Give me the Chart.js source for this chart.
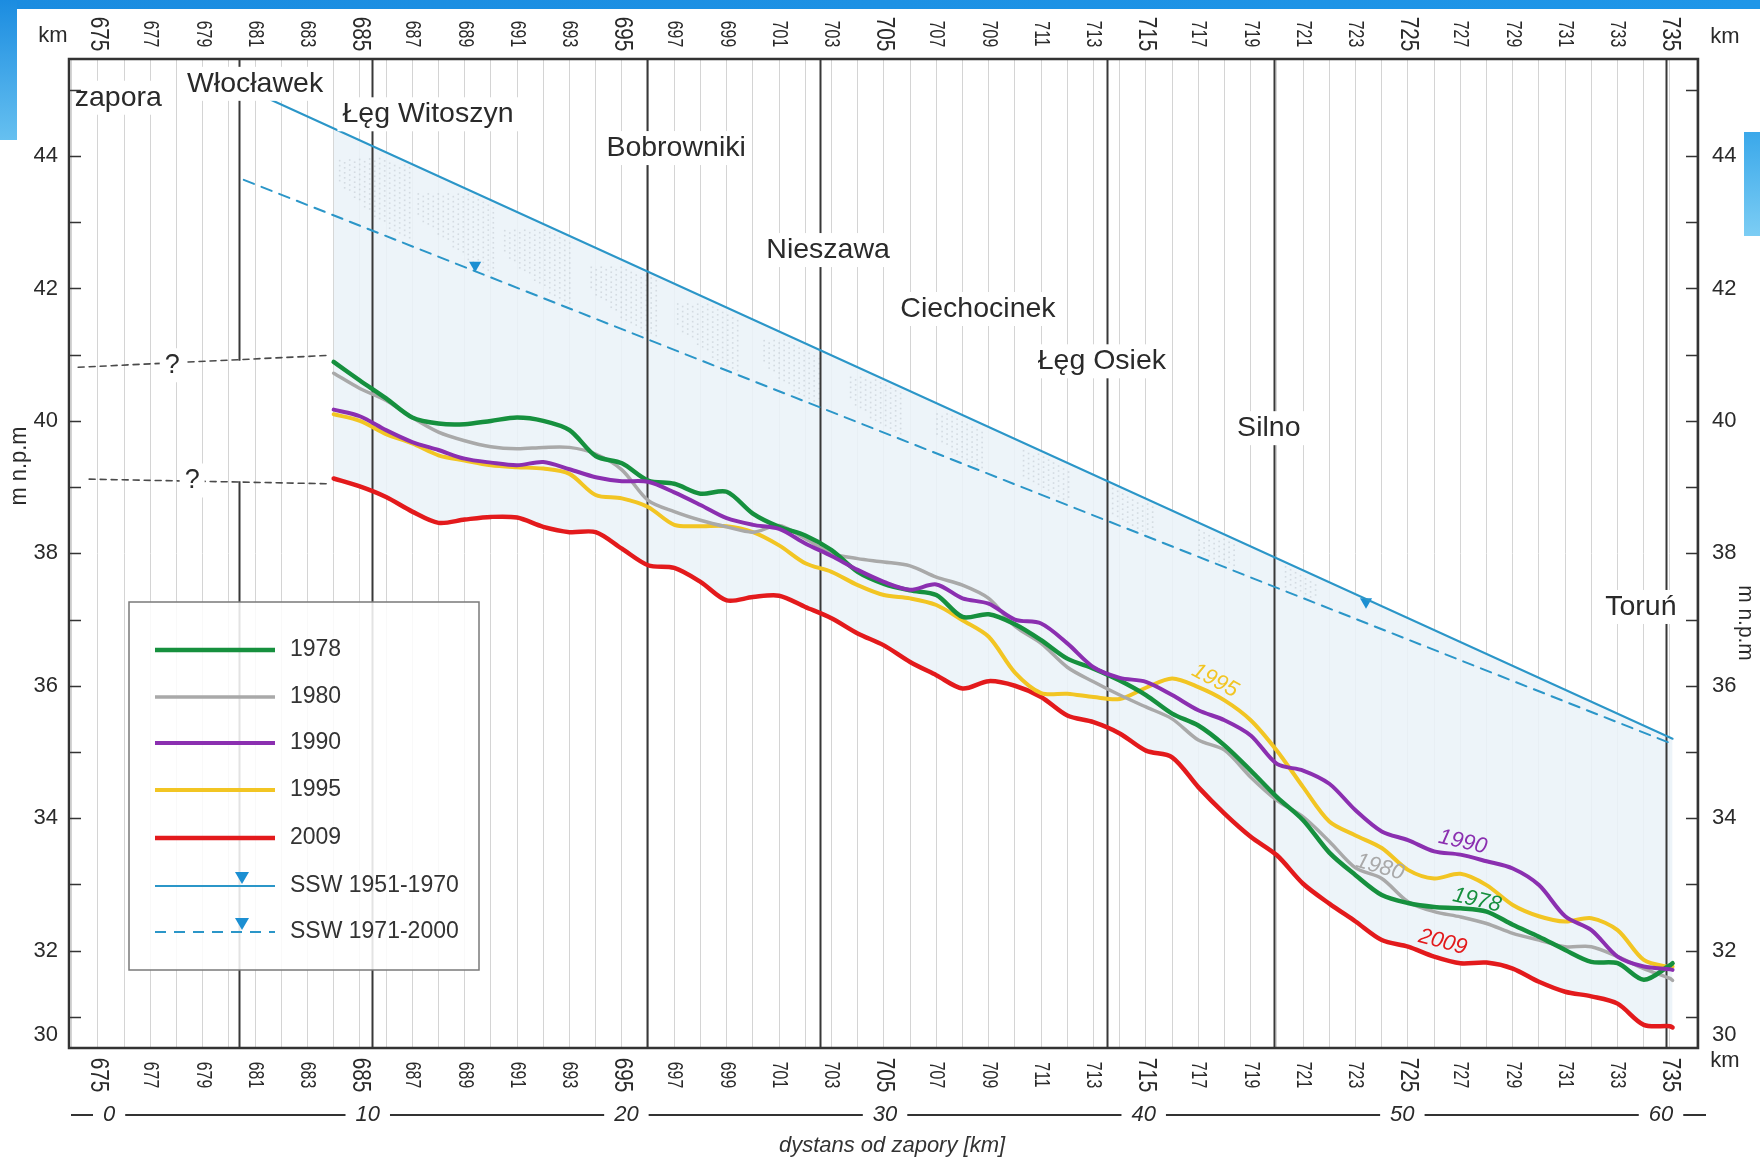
<!DOCTYPE html>
<html lang="pl">
<head>
<meta charset="UTF-8">
<title>Profil zwierciadła wody Wisły – Włocławek–Toruń</title>
<script src="https://cdn.jsdelivr.net/npm/chart.js@4.4.1/dist/chart.umd.min.js"></script>
<style>
    body {
        margin: 0;
        background: #fff;
        font-family: "Liberation Sans", Arial, sans-serif;
    }
    .frame {
        position: relative;
        width: 1760px;
        height: 1161px;
        overflow: hidden;
    }
    .bar-top {
        position: absolute; left: 0; top: 0; width: 1760px; height: 9px;
        background: linear-gradient(to right, #1b8ce0, #1f96e8);
    }
    .bar-left {
        position: absolute; left: 0; top: 0; width: 17px; height: 140px;
        background: linear-gradient(to bottom, #1b8ce0, #66c0f0);
    }
    .bar-right {
        position: absolute; right: 0; top: 132px; width: 16px; height: 104px;
        background: linear-gradient(to bottom, #3aa8ea, #7ccdf4);
    }
</style>
</head>
<body>
<div class="frame">
    <canvas id="profil" width="1760" height="1161"></canvas>
    <div class="bar-top"></div>
    <div class="bar-left"></div>
    <div class="bar-right"></div>
</div>

<script>
// kilometraż rzeki (km) dla odczytanych punktów
const kmSteps = [684, 685, 686, 687, 688, 689, 690, 691, 692, 693, 694, 695, 696, 697, 698, 699,
    700, 701, 702, 703, 704, 705, 706, 707, 708, 709, 710, 711, 712, 713, 714, 715, 716, 717, 718, 719,
    720, 721, 722, 723, 724, 725, 726, 727, 728, 729, 730, 731, 732, 733, 734, 735, 735.1];

// rzędne zwierciadła wody [m n.p.m.]
const y1978 = [40.89, 40.61, 40.34, 40.05, 39.96, 39.95, 40.00, 40.05, 40.00, 39.86, 39.47, 39.36, 39.10, 39.05, 38.90, 38.93,
    38.60, 38.40, 38.27, 38.05, 37.72, 37.54, 37.44, 37.37, 37.04, 37.08, 36.93, 36.69, 36.41, 36.26, 36.08, 35.86, 35.58, 35.40, 35.10, 34.72,
    34.32, 33.97, 33.48, 33.14, 32.84, 32.72, 32.66, 32.64, 32.59, 32.39, 32.21, 32.01, 31.83, 31.81, 31.56, 31.78, 31.81];
const y1980 = [40.72, 40.49, 40.31, 40.05, 39.83, 39.70, 39.61, 39.58, 39.60, 39.60, 39.50, 39.26, 38.80, 38.63, 38.50, 38.40,
    38.32, 38.42, 38.22, 38.00, 37.92, 37.87, 37.81, 37.64, 37.52, 37.32, 36.90, 36.64, 36.28, 36.06, 35.86, 35.68, 35.50, 35.18, 35.03, 34.62,
    34.27, 34.02, 33.65, 33.25, 33.09, 32.74, 32.59, 32.51, 32.41, 32.26, 32.16, 32.06, 32.06, 31.91, 31.73, 31.58, 31.55];
const y1990 = [40.17, 40.07, 39.86, 39.68, 39.56, 39.43, 39.37, 39.33, 39.38, 39.27, 39.15, 39.09, 39.08, 38.92, 38.73, 38.53,
    38.43, 38.37, 38.15, 37.96, 37.75, 37.57, 37.45, 37.53, 37.32, 37.24, 37.00, 36.94, 36.64, 36.28, 36.12, 36.06, 35.86, 35.63, 35.48, 35.25,
    34.82, 34.72, 34.52, 34.12, 33.80, 33.67, 33.50, 33.45, 33.35, 33.24, 32.99, 32.52, 32.31, 31.91, 31.76, 31.72, 31.71];
const y1995 = [40.10, 40.00, 39.80, 39.66, 39.48, 39.40, 39.33, 39.30, 39.28, 39.20, 38.88, 38.83, 38.70, 38.43, 38.41, 38.41,
    38.32, 38.12, 37.85, 37.72, 37.52, 37.37, 37.32, 37.22, 36.99, 36.74, 36.20, 35.89, 35.88, 35.83, 35.80, 35.97, 36.11, 35.98, 35.78, 35.48,
    35.02, 34.47, 33.95, 33.74, 33.55, 33.22, 33.09, 33.16, 32.99, 32.69, 32.52, 32.44, 32.49, 32.31, 31.86, 31.75, 31.76];
const y2009 = [39.13, 39.01, 38.85, 38.63, 38.46, 38.51, 38.55, 38.54, 38.40, 38.32, 38.32, 38.07, 37.82, 37.78, 37.57, 37.29,
    37.34, 37.36, 37.19, 37.02, 36.79, 36.61, 36.36, 36.16, 35.96, 36.07, 36.00, 35.83, 35.55, 35.45, 35.28, 35.02, 34.92, 34.47, 34.07, 33.72,
    33.44, 33.01, 32.71, 32.44, 32.16, 32.06, 31.91, 31.81, 31.82, 31.73, 31.53, 31.38, 31.31, 31.20, 30.88, 30.86, 30.84];

// średnie stany wody (SSW)
const ssw5170Km = [681.6, 735.1];
const ssw5170Level = [44.85, 35.2];
const ssw7100Km = [680.57, 735.1];
const ssw7100Level = [43.64, 35.12];
const sswMarkKm = [723.4, 689.4];
const sswMarkLevel = [37.27, 42.35];

// odcinki kropkowane między liniami SSW (km od–do)
const stippleFrom = [684.2, 687.2, 690.5, 693.8, 697.1, 700.4, 703.7, 707.0, 710.3, 713.7, 717.0, 720.3];
const stippleTo = [686.9, 690.1, 693.1, 696.3, 699.5, 702.5, 705.7, 708.8, 712.2, 715.4, 718.4, 721.6];

// przypuszczalne poziomy powyżej km 684 ("?")
const qUpperKm = [674.25, 683.87];
const qUpperLevel = [40.81, 40.99];
const qLowerKm = [674.67, 683.87];
const qLowerLevel = [39.12, 39.05];

// miejscowości i ich kilometraż
const placeNames = ['zapora', 'Włocławek', 'Łęg Witoszyn', 'Bobrowniki', 'Nieszawa', 'Ciechocinek', 'Łęg Osiek', 'Silno', 'Toruń'];
const placeKm = [null, 680.4, 685.45, 695.95, 702.55, null, 713.5, 719.9, 734.85];

// opisy osi
const kmTickLabels = ['675', '677', '679', '681', '683', '685', '687', '689', '691', '693', '695', '697', '699', '701', '703',
    '705', '707', '709', '711', '713', '715', '717', '719', '721', '723', '725', '727', '729', '731', '733', '735'];
const distTickLabels = ['0', '10', '20', '30', '40', '50', '60'];
const levelTickLabels = ['44', '42', '40', '38', '36', '34', '32', '30'];

const seriesNames = ['1978', '1980', '1990', '1995', '2009', 'SSW 1951-1970', 'SSW 1971-2000'];

// ---- wygląd ----
const FONT = '"Liberation Sans", Arial, sans-serif';
const colors = {
    '1978': '#16903e', '1980': '#a9a9a9', '1990': '#8b2fb0', '1995': '#f2c523', '2009': '#e31a1c',
    ssw: '#2b96c8', sswMark: '#1c8fd2', site: '#383838', ink: '#2a2a2a'
};

// miejsca napisów (km, m n.p.m.)
const placeAnchors = [
    {km: 674.12, lv: 44.88, align: 'left'},
    {km: 681.0, lv: 45.09}, {km: 687.6, lv: 44.63}, {km: 697.07, lv: 44.12}, {km: 702.87, lv: 42.58},
    {km: 708.59, lv: 41.69}, {km: 713.32, lv: 40.90}, {km: 719.69, lv: 39.89}, {km: 733.89, lv: 37.19}
];
const seriesTags = [
    {text: '1995', km: 717.64, lv: 36.08, rot: 28, color: colors['1995']},
    {text: '1990', km: 727.09, lv: 33.64, rot: 13, color: colors['1990']},
    {text: '1980', km: 723.93, lv: 33.26, rot: 16, color: colors['1980']},
    {text: '1978', km: 727.63, lv: 32.76, rot: 13, color: colors['1978']},
    {text: '2009', km: 726.33, lv: 32.13, rot: 15, color: colors['2009']}
];

function pts(xs, ys) {
    return ys.map((v, i) => ({x: xs[i], y: v}));
}

function lineAt(xs, ys, km) {
    // poziom na prostej SSW w danym km
    return ys[0] + (ys[1] - ys[0]) * (km - xs[0]) / (xs[1] - xs[0]);
}

function drawText(c, s, x, y, o) {
    c.save();
    c.font = o.font;
    c.fillStyle = o.color || colors.ink;
    c.textAlign = o.align || 'center';
    c.textBaseline = 'middle';
    c.translate(x, y);
    if (o.rot) c.rotate(o.rot);
    if (o.sx) c.scale(o.sx, 1);
    c.fillText(s, 0, 0);
    c.restore();
}

function boxedText(c, s, x, y, font, align) {
    c.save();
    c.font = font;
    const w = c.measureText(s).width;
    const left = align === 'left' ? x : x - w / 2 - 5;
    c.fillStyle = '#fff';
    c.fillRect(left, y - 17, w + (align === 'left' ? 5 : 10), 34);
    c.restore();
    drawText(c, s, x, y, {font: font, align: align});
}

const decor = {
    id: 'decor',
    beforeDatasetsDraw(chart) {
        const c = chart.ctx, a = chart.chartArea, x = chart.scales.x, y = chart.scales.y;
        c.save();

        // kropkowanie między liniami SSW
        c.fillStyle = 'rgba(150,160,170,0.3)';
        stippleFrom.forEach((k0, i) => {
            const k1 = stippleTo[i];
            const x0 = x.getPixelForValue(k0), x1 = x.getPixelForValue(k1);
            for (let px = x0; px <= x1; px += 5) {
                const km = x.getValueForPixel(px);
                const top = y.getPixelForValue(lineAt(ssw5170Km, ssw5170Level, km));
                const bot = y.getPixelForValue(lineAt(ssw7100Km, ssw7100Level, km));
                const h = bot - top;
                const t = (px - x0) / (x1 - x0);
                const from = top + h * (0.12 + 0.4 * (1 - t)) - 16;
                const to = top + h * (0.5 + 0.4 * t) + 10;
                const odd = Math.round((px - x0) / 5) % 2;
                for (let py = from + odd * 2.5; py <= Math.min(to, bot - 4); py += 5) {
                    if (py < top + 4) continue;
                    c.fillRect(px, py, 1.6, 1.6);
                }
            }
        });

        c.strokeStyle = colors.site;
        c.lineWidth = 2;
        placeKm.forEach((km, i) => {
            if (km === null) return;
            const px = Math.round(x.getPixelForValue(km)) + 0.5;
            c.beginPath();
            if (placeNames[i] === 'Włocławek') {
                // przerwa między liniami "?"
                c.moveTo(px, a.top); c.lineTo(px, y.getPixelForValue(qUpperLevel[0] + 0.1));
                c.moveTo(px, y.getPixelForValue(qLowerLevel[0] - 0.03)); c.lineTo(px, a.bottom);
            } else {
                c.moveTo(px, a.top); c.lineTo(px, a.bottom);
            }
            c.stroke();
        });
        c.restore();
    },
    afterDatasetsDraw(chart) {
        const c = chart.ctx, a = chart.chartArea, x = chart.scales.x, y = chart.scales.y, xd = chart.scales.xd;

        // znaki zapytania
        boxedText(c, '?', x.getPixelForValue(677.84), y.getPixelForValue(40.84), '27px ' + FONT);
        boxedText(c, '?', x.getPixelForValue(678.6), y.getPixelForValue(39.1), '27px ' + FONT);

        // nazwy miejscowości
        placeNames.forEach((n, i) => {
            const p = placeAnchors[i];
            boxedText(c, n, x.getPixelForValue(p.km), y.getPixelForValue(p.lv), '28.5px ' + FONT, p.align);
        });

        // ramka wykresu
        c.save();
        c.strokeStyle = '#333';
        c.lineWidth = 2.5;
        c.strokeRect(a.left, a.top, a.right - a.left, a.bottom - a.top);

        // znaczniki osi rzędnych (co 1 m, do środka)
        c.lineWidth = 1.5;
        for (let v = 31; v <= 45; v++) {
            const py = Math.round(y.getPixelForValue(v)) + 0.5;
            c.beginPath();
            c.moveTo(a.left, py); c.lineTo(a.left + 12, py);
            c.moveTo(a.right, py); c.lineTo(a.right - 12, py);
            c.stroke();
        }
        c.restore();

        levelTickLabels.forEach(t => {
            const py = Math.min(y.getPixelForValue(+t), a.bottom - 13);
            drawText(c, t, a.left - 11, py, {font: '22px ' + FONT, align: 'right'});
            drawText(c, t, a.right + 14, py, {font: '22px ' + FONT, align: 'left'});
        });

        // kilometraż u góry i u dołu (tekst obrócony)
        kmTickLabels.forEach(t => {
            const km = +t, px = x.getPixelForValue(km);
            const big = km % 10 === 5;
            const o = {font: (big ? '26px ' : '22px ') + FONT, rot: Math.PI / 2, sx: big ? 0.8 : 0.72};
            drawText(c, t, px, 34, o);
            drawText(c, t, px, 1075, o);
        });
        drawText(c, 'km', 53, 36, {font: '22px ' + FONT});
        drawText(c, 'km', 1725, 37, {font: '22px ' + FONT});
        drawText(c, 'km', 1725, 1061, {font: '22px ' + FONT});

        // dystans od zapory
        const dy = 1115;
        const itFont = 'italic 22px ' + FONT;
        c.save();
        c.font = itFont;
        let prev = a.left + 2;
        c.strokeStyle = '#333';
        c.lineWidth = 2;
        distTickLabels.forEach(t => {
            const px = xd.getPixelForValue(+t);
            const w = c.measureText(t).width;
            c.beginPath(); c.moveTo(prev, dy); c.lineTo(px - w / 2 - 10, dy); c.stroke();
            prev = px + w / 2 + 10;
        });
        c.beginPath(); c.moveTo(prev, dy); c.lineTo(a.right + 8, dy); c.stroke();
        c.restore();
        distTickLabels.forEach(t => drawText(c, t, xd.getPixelForValue(+t), dy, {font: itFont}));
        drawText(c, 'dystans od zapory [km]', 892, 1146, {font: 'italic 22px ' + FONT, color: '#333'});

        // tytuły osi
        drawText(c, 'm n.p.m', 20, 466, {font: '23px ' + FONT, rot: -Math.PI / 2, sx: 0.95});
        drawText(c, 'm n.p.m', 1745, 623, {font: '22px ' + FONT, rot: Math.PI / 2, sx: 0.95});

        // podpisy serii przy liniach
        seriesTags.forEach(s => {
            drawText(c, s.text, x.getPixelForValue(s.km), y.getPixelForValue(s.lv),
                {font: 'italic 22px ' + FONT, color: s.color, rot: s.rot * Math.PI / 180});
        });

        // legenda
        const L = {left: 129, top: 602, right: 479, bottom: 970};
        c.save();
        c.fillStyle = 'rgba(255,255,255,0.86)';
        c.fillRect(L.left, L.top, L.right - L.left, L.bottom - L.top);
        c.strokeStyle = '#7a7a7a';
        c.lineWidth = 1.5;
        c.strokeRect(L.left, L.top, L.right - L.left, L.bottom - L.top);
        const rowY = [650, 697, 743, 790, 838, 886, 932];
        chart.data.datasets.slice(0, 7).forEach(ds => {
            const i = seriesNames.indexOf(ds.label);
            const ry = rowY[i];
            c.beginPath();
            c.strokeStyle = ds.borderColor;
            c.lineWidth = ds.borderWidth;
            c.setLineDash(ds.borderDash || []);
            c.moveTo(155, ry); c.lineTo(275, ry);
            c.stroke();
            c.setLineDash([]);
            if (ds.label.startsWith('SSW')) {
                c.fillStyle = colors.sswMark;
                c.beginPath();
                c.moveTo(235, ry - 14); c.lineTo(249, ry - 14); c.lineTo(242, ry - 2);
                c.closePath(); c.fill();
            }
            drawText(c, ds.label, 290, ry, {font: '23px ' + FONT, align: 'left', color: '#333'});
        });
        c.restore();
    }
};

const ctx = document.getElementById('profil').getContext('2d');
const chart = new Chart(ctx, {
    type: 'line',
    data: {
        datasets: [
            {label: '1990', data: pts(kmSteps, y1990), borderColor: colors['1990'], borderWidth: 4},
            {label: '1978', data: pts(kmSteps, y1978), borderColor: colors['1978'], borderWidth: 4.5},
            {label: '1980', data: pts(kmSteps, y1980), borderColor: colors['1980'], borderWidth: 3.5},
            {label: '1995', data: pts(kmSteps, y1995), borderColor: colors['1995'], borderWidth: 4},
            {label: '2009', data: pts(kmSteps, y2009), borderColor: colors['2009'], borderWidth: 4.5,
                fill: 5, backgroundColor: 'rgba(234,242,248,0.88)'},
            {label: 'SSW 1951-1970', data: pts(ssw5170Km, ssw5170Level), borderColor: colors.ssw, borderWidth: 2, tension: 0},
            {label: 'SSW 1971-2000', data: pts(ssw7100Km, ssw7100Level), borderColor: colors.ssw, borderWidth: 2,
                borderDash: [11, 8], tension: 0},
            {label: 'znaczniki SSW', data: pts(sswMarkKm, sswMarkLevel), showLine: false, pointStyle: 'triangle',
                pointRotation: 180, pointRadius: 7, pointBackgroundColor: colors.sswMark, pointBorderWidth: 0},
            {label: '?', data: pts(qUpperKm, qUpperLevel), borderColor: '#4a4a4a', borderWidth: 1.6, borderDash: [6, 5], tension: 0},
            {label: '? ', data: pts(qLowerKm, qLowerLevel), borderColor: '#4a4a4a', borderWidth: 1.6, borderDash: [6, 5], tension: 0}
        ]
    },
    options: {
        responsive: false,
        animation: false,
        devicePixelRatio: 1,
        layout: {padding: {left: 69, right: 62, top: 59, bottom: 113}},
        elements: {
            line: {tension: 0.3, fill: false, borderCapStyle: 'round', borderJoinStyle: 'round'},
            point: {radius: 0}
        },
        scales: {
            x: {
                type: 'linear', min: 673.9, max: 736.07,
                afterBuildTicks: s => { s.ticks = []; for (let k = 674; k <= 736; k++) s.ticks.push({value: k}); },
                ticks: {display: false},
                grid: {color: '#d4d4d4', lineWidth: 1, drawTicks: false},
                border: {display: false}
            },
            xd: {type: 'linear', display: false, min: -1.55, max: 61.43},
            y: {type: 'linear', display: false, min: 30.53, max: 45.465}
        },
        plugins: {
            legend: {display: false},
            tooltip: {enabled: false},
            filler: {drawTime: 'beforeDatasetsDraw'}
        }
    },
    plugins: [decor]
});
</script>
</body>
</html>
